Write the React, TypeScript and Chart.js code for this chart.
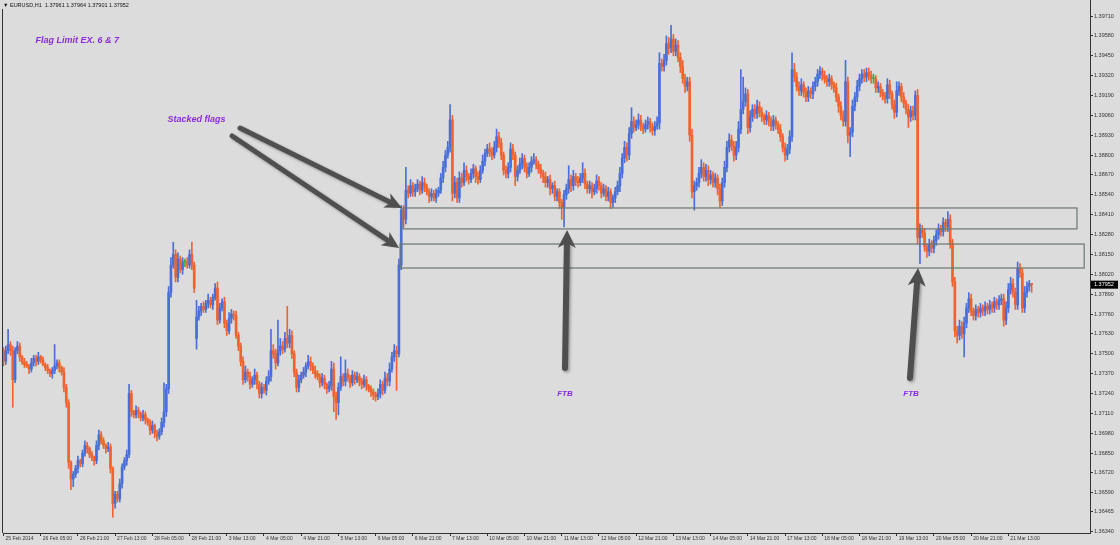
import React, { useEffect, useRef } from "react";
import { Chart, registerables } from "chart.js";

Chart.register(...registerables);

// ---------------- DATA ----------------
const headerText = "\u25BC EURUSD,H1  1.37961 1.37964 1.37901 1.37952";
const pip = 0.0001;
const firstOpen = 1.3752;
// weekend gap opens: [bar index, open price]
const gapOpens: [number, number][] = [[83, 1.376]];

const closes = [
  1.3745, 1.3752, 1.3756, 1.3752, 1.3733, 1.3752, 1.3755, 1.3748, 1.3745, 1.3743,
  1.3742, 1.3740, 1.3744, 1.3747, 1.3745, 1.3748, 1.3746, 1.3743, 1.3741, 1.3739,
  1.3737, 1.3739, 1.3742, 1.3744, 1.3741, 1.3738, 1.3728, 1.3718, 1.3679, 1.3668,
  1.3671, 1.3675, 1.3680, 1.3678, 1.3685, 1.3690, 1.3688, 1.3684, 1.3682, 1.3680,
  1.3690, 1.3697, 1.3693, 1.3690, 1.3688, 1.3689, 1.3675, 1.3652, 1.3658, 1.3655,
  1.3665, 1.3676, 1.3680, 1.3684, 1.3724, 1.3712, 1.3710, 1.3713, 1.3711, 1.3708,
  1.3710, 1.3707, 1.3705, 1.3700, 1.3703, 1.3698, 1.3696, 1.3699, 1.3705, 1.3712,
  1.3727, 1.3790, 1.3808, 1.3815, 1.3800, 1.3812, 1.3805, 1.3810, 1.3810, 1.3808,
  1.3815, 1.3808, 1.3793, 1.3774, 1.3778, 1.3781, 1.3779, 1.3783, 1.3785, 1.3782,
  1.3787, 1.3793, 1.3772, 1.3780, 1.3784, 1.3770, 1.3765, 1.3773, 1.3776, 1.3775,
  1.3762, 1.3755, 1.3745, 1.3733, 1.3738, 1.3735, 1.3730, 1.3733, 1.3736, 1.3730,
  1.3724, 1.3728, 1.3726, 1.3732, 1.3735, 1.3752, 1.3750, 1.3744, 1.3752, 1.3755,
  1.3753, 1.3760, 1.3757, 1.3762, 1.3750, 1.3738, 1.3728, 1.3733, 1.3736, 1.3738,
  1.3742, 1.3745, 1.3742, 1.3739, 1.3737, 1.3735, 1.3731, 1.3734, 1.3730, 1.3727,
  1.3729, 1.3740, 1.3722, 1.3718, 1.3728, 1.3735, 1.3732, 1.3737, 1.3734, 1.3731,
  1.3736, 1.3733, 1.3735, 1.3732, 1.3730, 1.3733, 1.3729, 1.3727, 1.3725, 1.3723,
  1.3722, 1.3724, 1.3730, 1.3726, 1.3734, 1.3732, 1.3740, 1.3748, 1.3752, 1.3750,
  1.3808, 1.3844, 1.3838, 1.3857, 1.3855, 1.3860, 1.3856, 1.3858, 1.3861, 1.3857,
  1.3862, 1.3859, 1.3856, 1.3853, 1.3855, 1.3852, 1.3855, 1.3857, 1.3865, 1.3872,
  1.3880, 1.3885, 1.3903, 1.3855, 1.3862, 1.3852, 1.3865, 1.3862, 1.3870, 1.3866,
  1.3864, 1.3868, 1.3871, 1.3866, 1.3864, 1.3870, 1.3876, 1.3881, 1.3884, 1.3882,
  1.3880, 1.3885, 1.3892, 1.3888, 1.3880, 1.3870, 1.3868, 1.3872, 1.3884, 1.3880,
  1.3866, 1.3870, 1.3874, 1.3878, 1.3872, 1.3868, 1.3872, 1.3876, 1.3877, 1.3874,
  1.3871, 1.3868, 1.3866, 1.3862, 1.3864, 1.3858, 1.3860, 1.3853, 1.3856, 1.3849,
  1.3846, 1.3854, 1.3858, 1.3864, 1.3860, 1.3866, 1.3863, 1.3862, 1.3865, 1.3868,
  1.3861, 1.3858, 1.3860, 1.3856, 1.3858, 1.3863, 1.3860, 1.3855, 1.3858, 1.3853,
  1.3856, 1.3849, 1.3852, 1.3856, 1.3860, 1.3868, 1.3878, 1.3885, 1.3880, 1.3894,
  1.3902, 1.3898, 1.3900, 1.3903, 1.3899, 1.3897, 1.3900, 1.3902, 1.3898, 1.3896,
  1.3899, 1.3901, 1.3940, 1.3938, 1.3942, 1.3953, 1.3950, 1.3956, 1.3948, 1.3952,
  1.3944, 1.3938, 1.3930, 1.3925, 1.3928, 1.3893, 1.3856, 1.3860, 1.3862, 1.3868,
  1.3872, 1.3866, 1.3870, 1.3864, 1.3867, 1.3862, 1.3865, 1.3858, 1.3850, 1.3862,
  1.3872, 1.3885, 1.3890, 1.3886, 1.3880, 1.3885, 1.3897, 1.3910, 1.3915, 1.3920,
  1.3898, 1.3905, 1.3910, 1.3907, 1.3912, 1.3908, 1.3905, 1.3903, 1.3906, 1.3902,
  1.3899, 1.3903, 1.3900, 1.3897, 1.3892, 1.3885, 1.3880, 1.3884, 1.3892, 1.3936,
  1.3931, 1.3925, 1.3922, 1.3926, 1.3921, 1.3918, 1.3922, 1.3920, 1.3925, 1.3928,
  1.3933, 1.3935, 1.3932, 1.3930, 1.3928, 1.3930, 1.3926, 1.3924, 1.3918, 1.3912,
  1.3906, 1.3902, 1.3928, 1.3893, 1.3895, 1.3912, 1.3918, 1.3925, 1.3930, 1.3933,
  1.3931, 1.3934, 1.3932, 1.3930, 1.3930, 1.3924, 1.3925, 1.3921, 1.3919, 1.3917,
  1.3926, 1.3920, 1.3913, 1.3908, 1.3922, 1.3925, 1.3918, 1.3914, 1.3910, 1.3905,
  1.3909, 1.3906, 1.3919, 1.3826, 1.3831, 1.3829, 1.3820, 1.3817, 1.3822, 1.3819,
  1.3824, 1.3828, 1.3832, 1.3830, 1.3836, 1.3833, 1.3838, 1.3822, 1.3797, 1.3765,
  1.3762, 1.3768, 1.3763, 1.3770, 1.3780, 1.3786, 1.3778, 1.3775, 1.3779, 1.3777,
  1.3780, 1.3778, 1.3781, 1.3779, 1.3782, 1.3780, 1.3784, 1.3782, 1.3785, 1.3786,
  1.3772, 1.3780, 1.3792, 1.3796, 1.3790, 1.3782, 1.3806, 1.3803, 1.3780, 1.3790,
  1.3794, 1.3796, 1.37952,
];

// upper / lower wick lengths in pips
const upWickPips = [
  2, 3, 10, 2, 3, 2, 3, 2, 1, 2,
  2, 1, 3, 2, 2, 3, 1, 2, 1, 2,
  1, 2, 14, 2, 2, 1, 3, 2, 2, 1,
  2, 2, 3, 1, 2, 3, 2, 1, 2, 1,
  3, 3, 2, 2, 1, 3, 2, 1, 2, 2,
  3, 2, 2, 3, 6, 2, 1, 3, 2, 1,
  3, 2, 1, 2, 3, 1, 2, 2, 3, 19,
  3, 4, 5, 8, 3, 4, 2, 3, 2, 3,
  3, 8, 2, 11, 3, 2, 3, 2, 4, 2,
  2, 3, 4, 3, 2, 3, 2, 4, 3, 2,
  3, 2, 2, 3, 4, 2, 3, 2, 4, 2,
  2, 3, 2, 3, 4, 14, 4, 3, 20, 5,
  3, 4, 21, 4, 3, 2, 2, 3, 2, 3,
  2, 4, 3, 2, 3, 2, 2, 3, 2, 1,
  3, 5, 4, 3, 3, 13, 2, 9, 3, 2,
  3, 2, 3, 2, 2, 3, 2, 1, 2, 2,
  2, 3, 3, 2, 4, 3, 4, 3, 4, 3,
  4, 3, 3, 15, 3, 4, 2, 3, 3, 2,
  4, 3, 2, 2, 3, 2, 3, 2, 3, 4,
  3, 4, 10, 3, 4, 3, 4, 3, 5, 3,
  2, 3, 3, 2, 3, 3, 4, 3, 3, 4,
  3, 4, 5, 3, 3, 2, 3, 3, 4, 3,
  2, 3, 4, 3, 2, 3, 3, 3, 4, 2,
  2, 3, 2, 3, 2, 3, 2, 3, 2, 2,
  2, 3, 3, 9, 3, 4, 2, 3, 3, 7,
  3, 2, 3, 2, 3, 4, 3, 2, 3, 2,
  3, 2, 2, 3, 3, 4, 3, 4, 3, 4,
  9, 3, 3, 4, 3, 2, 3, 3, 2, 3,
  3, 4, 7, 3, 4, 5, 4, 9, 3, 4,
  3, 3, 4, 3, 3, 3, 4, 3, 3, 4,
  5, 3, 4, 3, 3, 2, 3, 2, 3, 3,
  4, 4, 4, 3, 3, 4, 5, 26, 16, 4,
  3, 4, 3, 3, 4, 3, 3, 2, 3, 2,
  3, 3, 2, 2, 3, 2, 3, 3, 4, 11,
  4, 3, 3, 4, 2, 3, 3, 2, 3, 3,
  3, 3, 2, 3, 2, 3, 2, 2, 3, 2,
  3, 3, 14, 3, 3, 4, 3, 4, 3, 3,
  3, 3, 3, 3, 3, 2, 3, 2, 2, 2,
  4, 3, 2, 3, 6, 3, 2, 3, 2, 3,
  3, 3, 3, 4, 4, 3, 3, 2, 3, 2,
  3, 3, 3, 2, 3, 2, 5, 3, 3, 3,
  3, 4, 3, 4, 3, 4, 3, 2, 3, 2,
  3, 2, 3, 2, 3, 2, 3, 2, 3, 3,
  3, 4, 4, 4, 3, 3, 4, 3, 3, 4,
  3, 2, 0,
];

const downWickPips = [
  3, 2, 2, 3, 18, 2, 2, 3, 2, 2,
  1, 3, 2, 2, 3, 2, 2, 1, 2, 2,
  2, 3, 2, 2, 3, 2, 3, 3, 4, 7,
  5, 2, 3, 2, 2, 2, 3, 2, 2, 3,
  2, 3, 2, 2, 3, 2, 3, 9, 3, 2,
  2, 3, 2, 3, 2, 3, 2, 2, 3, 2,
  2, 3, 2, 3, 2, 3, 3, 2, 2, 3,
  3, 3, 3, 2, 3, 3, 2, 3, 3, 2,
  2, 3, 3, 7, 2, 3, 2, 2, 3, 2,
  3, 2, 3, 2, 2, 3, 3, 2, 3, 3,
  2, 3, 3, 3, 2, 3, 3, 2, 3, 3,
  3, 3, 2, 3, 2, 3, 3, 4, 2, 3,
  3, 2, 3, 3, 3, 3, 3, 3, 2, 2,
  3, 2, 3, 2, 3, 2, 3, 2, 3, 3,
  2, 3, 10, 11, 8, 2, 3, 3, 2, 3,
  2, 3, 2, 3, 3, 2, 3, 2, 3, 3,
  3, 2, 3, 3, 2, 3, 3, 2, 3, 24,
  2, 3, 5, 3, 3, 2, 3, 3, 2, 3,
  2, 3, 2, 4, 3, 2, 3, 2, 2, 3,
  3, 2, 3, 5, 3, 3, 3, 3, 2, 3,
  3, 2, 3, 4, 3, 2, 2, 3, 2, 3,
  3, 2, 3, 3, 3, 3, 3, 3, 3, 3,
  6, 3, 2, 3, 3, 3, 2, 3, 2, 3,
  3, 3, 4, 3, 3, 4, 3, 3, 3, 4,
  8, 13, 3, 3, 4, 3, 3, 3, 2, 3,
  3, 3, 3, 4, 2, 3, 3, 3, 2, 3,
  3, 4, 3, 3, 2, 4, 3, 3, 4, 3,
  3, 3, 2, 3, 3, 3, 2, 3, 3, 3,
  3, 2, 4, 3, 3, 3, 4, 3, 3, 3,
  3, 4, 3, 4, 3, 4, 4, 12, 3, 3,
  3, 3, 3, 4, 3, 3, 3, 4, 4, 3,
  3, 3, 3, 3, 4, 3, 3, 3, 3, 3,
  4, 3, 3, 3, 3, 3, 3, 3, 3, 3,
  3, 3, 3, 3, 3, 3, 4, 3, 3, 3,
  3, 3, 3, 3, 3, 3, 3, 3, 3, 3,
  3, 3, 3, 3, 3, 3, 3, 3, 3, 4,
  3, 3, 3, 5, 14, 3, 3, 3, 3, 3,
  3, 3, 3, 3, 3, 3, 3, 3, 3, 3,
  3, 3, 3, 4, 3, 3, 3, 3, 3, 7,
  3, 3, 3, 4, 17, 3, 3, 4, 3, 3,
  3, 3, 3, 3, 3, 3, 3, 3, 3, 4,
  5, 3, 3, 15, 3, 3, 3, 3, 3, 3,
  3, 3, 3, 3, 3, 3, 3, 3, 3, 3,
  4, 3, 3, 3, 3, 3, 3, 3, 3, 3,
  3, 3, 5,
];

const xTickBars = [
  0, 16, 32, 48, 64, 80, 96, 112, 128, 144, 160, 176, 192, 208,
  224, 240, 256, 272, 288, 304, 320, 336, 352, 368, 384, 400, 416, 432,
];
const xTickLabels = [
  "25 Feb 2014", "26 Feb 05:00", "26 Feb 21:00", "27 Feb 13:00", "28 Feb 05:00",
  "28 Feb 21:00", "3 Mar 13:00", "4 Mar 05:00", "4 Mar 21:00", "5 Mar 13:00",
  "6 Mar 05:00", "6 Mar 21:00", "7 Mar 13:00", "10 Mar 05:00", "10 Mar 21:00",
  "11 Mar 13:00", "12 Mar 05:00", "12 Mar 21:00", "13 Mar 13:00", "14 Mar 05:00",
  "14 Mar 21:00", "17 Mar 13:00", "18 Mar 05:00", "18 Mar 21:00", "19 Mar 13:00",
  "20 Mar 05:00", "20 Mar 21:00", "21 Mar 13:00",
];
const yTickValues = [
  1.3971, 1.3958, 1.3945, 1.3932, 1.3919, 1.3906, 1.3893, 1.388, 1.3867,
  1.3854, 1.3841, 1.3828, 1.3815, 1.3802, 1.3789, 1.3776, 1.3763, 1.375,
  1.3737, 1.3724, 1.3711, 1.3698, 1.3685, 1.3672, 1.3659, 1.36465, 1.3634,
];

// zones: [from bar, to bar, top price, bottom price]
const zones: [number, number, number, number][] = [
  [171.8, 461.5, 1.38454, 1.38317],
  [170.5, 464.6, 1.38218, 1.38061],
];
// arrows: [from bar, from price, to bar, to price, shaft width, head length, head half width]
const arrows: [number, number, number, number, number, number, number][] = [
  [101.7, 1.38977, 171.3, 1.38454, 5, 17, 8],
  [98.3, 1.38925, 170.1, 1.38192, 5, 17, 8],
  [241.4, 1.37407, 242.3, 1.3831, 6, 18, 9],
  [389.7, 1.37342, 393.2, 1.38061, 6, 18, 9],
];
// notes: [text, bar, price, size, align]
const notes: [string, number, number, number, CanvasTextAlign][] = [
  ["Flag Limit EX. 6 & 7", 13.8, 1.3955, 9, "left"],
  ["Stacked flags", 70.5, 1.39033, 9, "left"],
  ["FTB", 241.4, 1.3724, 8, "center"],
  ["FTB", 390.2, 1.3724, 8, "center"],
];

const BULL = "#4a6fd8";
const BEAR = "#f0632f";
const DOJI = "#3cb043";
const BG = "#dcdcdc";
const NOTE = "#8a2be2";

function drawArrow(
  ctx: CanvasRenderingContext2D,
  x1: number, y1: number, x2: number, y2: number,
  w: number, headLen: number, headHalf: number
) {
  const ang = Math.atan2(y2 - y1, x2 - x1);
  const ux = Math.cos(ang), uy = Math.sin(ang);
  const px = -uy, py = ux;
  const bx = x2 - ux * headLen, by = y2 - uy * headLen;
  ctx.save();
  ctx.shadowColor = "rgba(0,0,0,0.35)";
  ctx.shadowBlur = 3;
  ctx.shadowOffsetX = 1.5;
  ctx.shadowOffsetY = 1.5;
  ctx.strokeStyle = "#4f4f4f";
  ctx.fillStyle = "#4f4f4f";
  ctx.lineWidth = w;
  ctx.lineCap = "round";
  ctx.beginPath();
  ctx.moveTo(x1, y1);
  ctx.lineTo(x2 - ux * headLen * 0.6, y2 - uy * headLen * 0.6);
  ctx.stroke();
  ctx.shadowColor = "rgba(0,0,0,0)";
  ctx.beginPath();
  ctx.moveTo(x2, y2);
  ctx.lineTo(bx + px * headHalf, by + py * headHalf);
  ctx.lineTo(x2 - ux * headLen * 0.72, y2 - uy * headLen * 0.72);
  ctx.lineTo(bx - px * headHalf, by - py * headHalf);
  ctx.closePath();
  ctx.fill();
  ctx.restore();
}

export default function App() {
  const ref = useRef<HTMLCanvasElement | null>(null);

  useEffect(() => {
    document.body.style.margin = "0";
    const canvas = ref.current;
    if (!canvas) return;

    const opens = closes.map((c, i) => (i === 0 ? firstOpen : closes[i - 1]));
    gapOpens.forEach(([i, o]) => {
      opens[i] = o;
    });
    const highs = closes.map((c, i) => Math.max(opens[i], c) + upWickPips[i] * pip);
    const lows = closes.map((c, i) => Math.min(opens[i], c) - downWickPips[i] * pip);
    const colors = closes.map((c, i) =>
      Math.abs(c - opens[i]) < 1e-7 ? DOJI : c > opens[i] ? BULL : BEAR
    );

    const bgPlugin = {
      id: "bg",
      beforeDraw(chart: any) {
        const ctx = chart.ctx;
        ctx.save();
        ctx.fillStyle = BG;
        ctx.fillRect(0, 0, chart.width, chart.height);
        ctx.restore();
      },
    };

    const overlay = {
      id: "overlay",
      afterDraw(chart: any) {
        const ctx: CanvasRenderingContext2D = chart.ctx;
        const xs = chart.scales.x;
        const ys = chart.scales.y;
        const area = chart.chartArea;
        ctx.save();
        // left border
        ctx.strokeStyle = "#333";
        ctx.lineWidth = 1;
        ctx.beginPath();
        ctx.moveTo(area.left - 0.5, 9);
        ctx.lineTo(area.left - 0.5, area.bottom);
        ctx.stroke();

        // header
        ctx.fillStyle = "#111";
        ctx.font = "5.5px 'Liberation Sans', 'DejaVu Sans', sans-serif";
        ctx.textAlign = "left";
        ctx.textBaseline = "middle";
        ctx.fillText(headerText, 3, 5);

        // zones
        ctx.strokeStyle = "#6b7870";
        ctx.lineWidth = 1.2;
        zones.forEach(([a, b, hi, lo]) => {
          const x1 = xs.getPixelForValue(a);
          const x2 = xs.getPixelForValue(b);
          const y1 = ys.getPixelForValue(hi);
          const y2 = ys.getPixelForValue(lo);
          ctx.strokeRect(x1, y1, x2 - x1, y2 - y1);
        });

        // arrows
        arrows.forEach(([a, pa, b, pb, w, hl, hh]) => {
          drawArrow(
            ctx,
            xs.getPixelForValue(a), ys.getPixelForValue(pa),
            xs.getPixelForValue(b), ys.getPixelForValue(pb),
            w, hl, hh
          );
        });

        // notes
        notes.forEach(([t, b, p, size, align]) => {
          ctx.fillStyle = NOTE;
          ctx.font = `italic bold ${size}px 'Liberation Sans', Arial, sans-serif`;
          ctx.textAlign = align;
          ctx.textBaseline = "middle";
          ctx.fillText(t, xs.getPixelForValue(b), ys.getPixelForValue(p));
        });

        // current price label
        const last = closes[closes.length - 1];
        const py = ys.getPixelForValue(last);
        ctx.fillStyle = "#000";
        ctx.fillRect(area.right + 1, py - 4, 27, 8);
        ctx.fillStyle = "#fff";
        ctx.font = "5.5px 'Liberation Sans', sans-serif";
        ctx.textAlign = "left";
        ctx.textBaseline = "middle";
        ctx.fillText(last.toFixed(5), area.right + 4, py);
        ctx.restore();
      },
    };

    const chart = new Chart(canvas, {
      type: "bar",
      data: {
        datasets: [
          {
            label: "wicks",
            data: closes.map((c, i) => ({ x: i, y: [lows[i], highs[i]] })) as any,
            backgroundColor: colors,
            barThickness: 1,
            grouped: false,
          } as any,
          {
            label: "bodies",
            data: closes.map((c, i) => ({ x: i, y: [opens[i], c] })) as any,
            backgroundColor: colors,
            barThickness: 2,
            minBarLength: 1,
            grouped: false,
          } as any,
        ],
      },
      options: {
        animation: false,
        responsive: false,
        devicePixelRatio: 1,
        layout: { padding: { left: 3, top: 0, right: 0, bottom: 0 } },
        plugins: { legend: { display: false }, tooltip: { enabled: false } },
        scales: {
          x: {
            type: "linear",
            min: -0.2,
            max: 467.1,
            offset: false,
            grid: {
              display: true,
              drawOnChartArea: false,
              drawTicks: true,
              tickLength: 3,
              color: "#333",
              offset: false,
            },
            border: { display: true, color: "#333", width: 1 },
            ticks: {
              autoSkip: false,
              maxRotation: 0,
              minRotation: 0,
              align: "start",
              labelOffset: 2,
              padding: 0,
              color: "#333",
              font: { family: "'Liberation Sans', sans-serif", size: 5 },
              callback: (_v: any, idx: number) => xTickLabels[idx],
            },
            afterBuildTicks: (s: any) => {
              s.ticks = xTickBars.map((v) => ({ value: v }));
            },
            afterFit: (s: any) => {
              s.height = 12;
              s.paddingLeft = 0;
              s.paddingRight = 0;
            },
          } as any,
          y: {
            type: "linear",
            position: "right",
            min: 1.36327,
            max: 1.39815,
            grid: {
              display: true,
              drawOnChartArea: false,
              drawTicks: true,
              tickLength: 3,
              color: "#333",
            },
            border: { display: true, color: "#333", width: 1 },
            ticks: {
              padding: 1,
              color: "#333",
              font: { family: "'Liberation Sans', sans-serif", size: 5.5 },
              callback: (v: any) => Number(v).toFixed(5),
            },
            afterBuildTicks: (s: any) => {
              s.ticks = yTickValues.map((v) => ({ value: v }));
            },
            afterFit: (s: any) => {
              s.width = 30;
              s.paddingTop = 0;
              s.paddingBottom = 0;
            },
          } as any,
        },
      },
      plugins: [bgPlugin, overlay],
    });

    return () => chart.destroy();
  }, []);

  return (
    <div style={{ width: 1120, height: 545, background: BG }}>
      <canvas ref={ref} width={1120} height={545} style={{ display: "block", width: 1120, height: 545 }} />
    </div>
  );
}
